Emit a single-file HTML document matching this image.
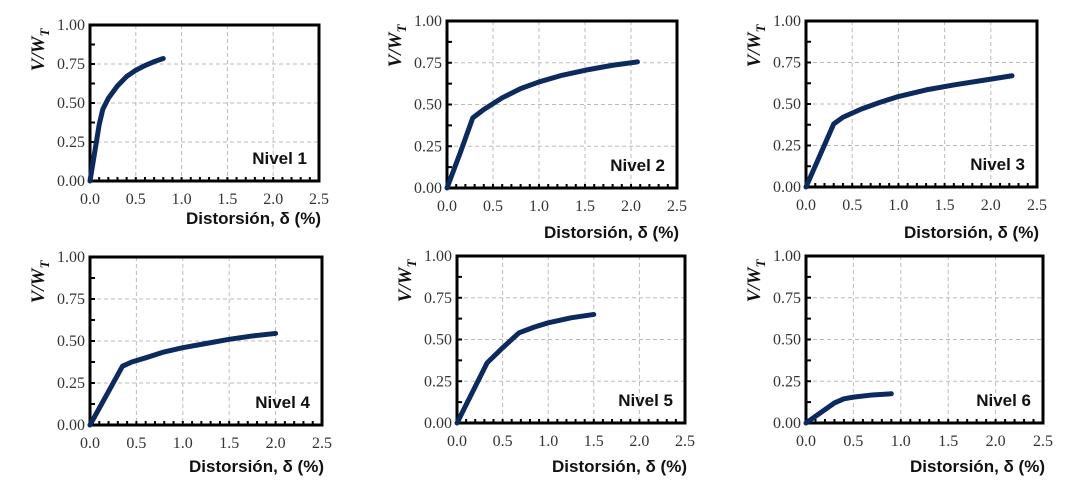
<!DOCTYPE html>
<html><head><meta charset="utf-8"><style>
body{margin:0;background:#fff;width:1080px;height:498px;overflow:hidden}
svg{display:block}
.tk{font-family:"Liberation Serif",serif;font-size:16px;fill:#333}
.xt{font-family:"Liberation Sans",sans-serif;font-weight:bold;font-size:17px;fill:#111}
.nv{font-family:"Liberation Sans",sans-serif;font-weight:bold;font-size:17px;fill:#111}
.yl{font-family:"Liberation Serif",serif;font-style:italic;font-weight:bold;font-size:19px;fill:#111}
</style></head><body>
<svg id="c" width="1080" height="498"></svg>
<script>
const panelNames=["Nivel 1","Nivel 2","Nivel 3","Nivel 4","Nivel 5","Nivel 6"];
const xTicks=[0,0.5,1,1.5,2,2.5];
const yTicks=[0,0.25,0.5,0.75,1];
const xTickLabels=["0.0","0.5","1.0","1.5","2.0","2.5"];
const yTickLabels=["0.00","0.25","0.50","0.75","1.00"];
const d1x=[0,0.05,0.1,0.14,0.2,0.3,0.4,0.5,0.6,0.7,0.8];
const d1y=[0,0.18,0.36,0.46,0.53,0.61,0.67,0.71,0.74,0.765,0.785];
const d2x=[0,0.15,0.28,0.4,0.6,0.8,1.0,1.25,1.5,1.8,2.07];
const d2y=[0,0.22,0.42,0.47,0.54,0.595,0.635,0.675,0.705,0.735,0.755];
const d3x=[0,0.15,0.3,0.4,0.6,0.8,1.0,1.3,1.6,2.0,2.23];
const d3y=[0,0.19,0.38,0.42,0.47,0.51,0.545,0.585,0.615,0.65,0.67];
const d4x=[0,0.35,0.45,0.6,0.8,1.0,1.25,1.5,1.75,2.0];
const d4y=[0,0.35,0.375,0.40,0.435,0.46,0.485,0.51,0.53,0.545];
const d5x=[0,0.33,0.5,0.68,0.85,1.0,1.25,1.5];
const d5y=[0,0.36,0.45,0.54,0.575,0.6,0.63,0.65];
const d6x=[0,0.15,0.3,0.4,0.5,0.7,0.9];
const d6y=[0,0.06,0.12,0.145,0.155,0.168,0.175];
const seriesX=[d1x,d2x,d3x,d4x,d5x,d6x];
const seriesY=[d1y,d2y,d3y,d4y,d5y,d6y];
const boxes=[[90,25,319,181,224],[447,21,677,188,238],[806,21,1037,187,238],[90,257,322,425,472],[457,256,685,423,472],[806,256,1043,423,472]];
const svg=document.getElementById('c');
const NS="http://www.w3.org/2000/svg";
function mk(t,a,p){const e=document.createElementNS(NS,t);for(const k in a)e.setAttribute(k,a[k]);(p||svg).appendChild(e);return e;}
boxes.forEach((b,i)=>{
  const [L,T,R,B,XL]=b;
  const g=mk('g',{});
  
  
  const sx=v=>L+v/2.5*(R-L), sy=v=>B-v*(B-T);
  xTicks.forEach((v,j)=>{
    if(j>0&&j<xTicks.length-1){const l=mk('line',{x1:sx(v),x2:sx(v),y1:T,y2:B,stroke:'#bbb','stroke-dasharray':'4,3'},g);}
    const t=mk('text',{x:sx(v),y:B+23,'text-anchor':'middle',class:'tk'},g);t.textContent=xTickLabels[j];
    
  });
  yTicks.forEach((v,j)=>{
    if(j>0&&j<yTicks.length-1){const l=mk('line',{x1:L,x2:R,y1:sy(v),y2:sy(v),stroke:'#bbb','stroke-dasharray':'4,3'},g);}
    const t=mk('text',{x:L-5,y:sy(v)+5,'text-anchor':'end',class:'tk'},g);t.textContent=yTickLabels[j];
    
  });
  for(let k=1;k<25;k++){mk('line',{x1:sx(k*0.1),x2:sx(k*0.1),y1:B,y2:B-4,stroke:'#000','stroke-width':2},g);}
  for(let k=1;k<8;k++){mk('line',{x1:L,x2:L+5,y1:sy(k*0.125),y2:sy(k*0.125),stroke:'#000','stroke-width':2},g);}
  const fr=mk('rect',{x:L,y:T,width:R-L,height:B-T,fill:'none',stroke:'#000','stroke-width':3},g);
  
  const pts=seriesX[i].map((x,k)=>sx(x)+','+sy(seriesY[i][k])).join(' ');
  const pl=mk('polyline',{points:pts,fill:'none',stroke:'#0d2a5e','stroke-width':5,'stroke-linejoin':'round','stroke-linecap':'round'},g);
  
  const nv=mk('text',{x:R-12,y:B-17,'text-anchor':'end',class:'nv'},g);nv.textContent=panelNames[i];
  
  const xl=mk('text',{x:R+2,y:XL,'text-anchor':'end',class:'xt'},g);xl.textContent='Distorsión, δ (%)';
  
  const yl=mk('text',{x:0,y:0,'text-anchor':'middle',class:'yl',transform:`translate(${L-46},${T+25}) rotate(-90)`},g);
  yl.innerHTML='V/W<tspan dy="5" font-size="13">T</tspan>';
  
});
</script>
</body></html>
